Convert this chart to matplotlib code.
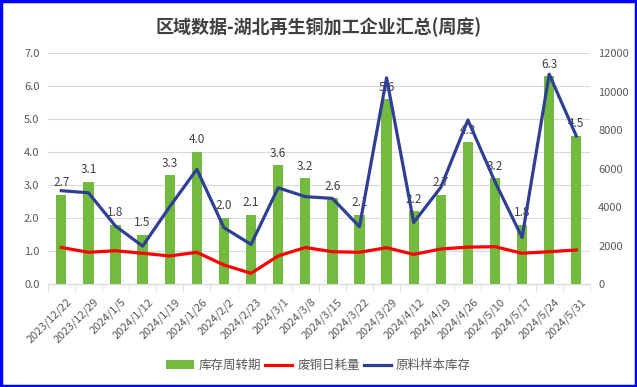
import matplotlib.pyplot as plt
import matplotlib.transforms as mtransforms
import numpy as np

plt.rcParams['font.family'] = ['Noto Sans CJK SC', 'DejaVu Sans']

# data
dates = ['2023/12/22', '2023/12/29', '2024/1/5', '2024/1/12', '2024/1/19',
         '2024/1/26', '2024/2/2', '2024/2/23', '2024/3/1', '2024/3/8',
         '2024/3/15', '2024/3/22', '2024/3/29', '2024/4/12', '2024/4/19',
         '2024/4/26', '2024/5/10', '2024/5/17', '2024/5/24', '2024/5/31']
turnover = [2.7, 3.1, 1.8, 1.5, 3.3, 4.0, 2.0, 2.1, 3.6, 3.2,
            2.6, 2.1, 5.6, 2.2, 2.7, 4.3, 3.2, 1.8, 6.3, 4.5]
daily_use = [1900, 1650, 1730, 1600, 1460, 1650, 990, 560, 1460, 1900,
             1680, 1650, 1890, 1540, 1820, 1920, 1940, 1600, 1680, 1770]
stock = [4850, 4740, 3010, 1970, 4020, 5960, 2930, 2060, 5000, 4540,
         4450, 2980, 10710, 3200, 5020, 8520, 5310, 2420, 10900, 7690]

label_col = '#595959'
x = np.arange(len(dates))

fig = plt.figure(figsize=(6.37, 3.87), dpi=100)
ax = fig.add_axes([0.075, 0.266, 0.851, 0.597])
ax2 = ax.twinx()

bars = ax.bar(x, turnover, width=0.38, color='#72BB3F', label='库存周转期', zorder=2)
for xi, v in zip(x, turnover):
    ax.text(xi, v + 0.17, f'{v:.1f}', ha='center', va='bottom',
            fontsize=8.5, color='#404040', zorder=5)

l1, = ax2.plot(x, daily_use, color='#FF0000', lw=2.3, label='废铜日耗量', zorder=3)
l2, = ax2.plot(x, stock, color='#2F3F93', lw=2.3, label='原料样本库存', zorder=3)

ax.set_xlim(-0.5, len(dates) - 0.5)
ax.set_ylim(0, 7)
ax.set_yticks(np.arange(0, 7.1, 1.0))
ax.set_yticklabels([f'{v:.1f}' for v in np.arange(0, 7.1, 1.0)])
ax2.set_ylim(0, 12000)
ax2.set_yticks(np.arange(0, 12001, 2000))

ax.grid(axis='y', color='#D9D9D9', lw=0.8, zorder=0)
ax.set_axisbelow(True)

for a in (ax, ax2):
    for s in ('top', 'left', 'right'):
        a.spines[s].set_visible(False)
    a.spines['bottom'].set_color('#D9D9D9')
    a.tick_params(axis='y', length=0, labelsize=8, labelcolor=label_col, pad=6)

ax.set_xticks(x)
ax.set_xticklabels(dates, rotation=45, ha='right', rotation_mode='anchor',
                   fontsize=8, color=label_col)
ax.tick_params(axis='x', length=0, pad=9)
# nudge date labels a little to the right, like the reference
shift = mtransforms.ScaledTranslation(5 / 100, 0, fig.dpi_scale_trans)
for lbl in ax.get_xticklabels():
    lbl.set_transform(lbl.get_transform() + shift)
ax.set_xticks(np.arange(-0.5, len(dates), 1.0), minor=True)
ax.tick_params(axis='x', which='minor', length=5, color='#D9D9D9')

fig.suptitle('区域数据-湖北再生铜加工企业汇总(周度)', x=0.5, y=0.955,
             fontsize=13, fontweight='bold', color='#404040')

fig.legend(handles=[bars, l1, l2], loc='center', bbox_to_anchor=(0.5, 0.055),
           ncol=3, frameon=False, fontsize=9, handlelength=2.2,
           handletextpad=0.4, columnspacing=0.3, labelcolor=label_col)

# blue frame around the picture
fig.patches.append(plt.Rectangle((0.002, 0.003), 0.996, 0.994, transform=fig.transFigure,
                                 fill=False, edgecolor='#0000FF', lw=2.5))

fig.savefig('out.png', dpi=100)
